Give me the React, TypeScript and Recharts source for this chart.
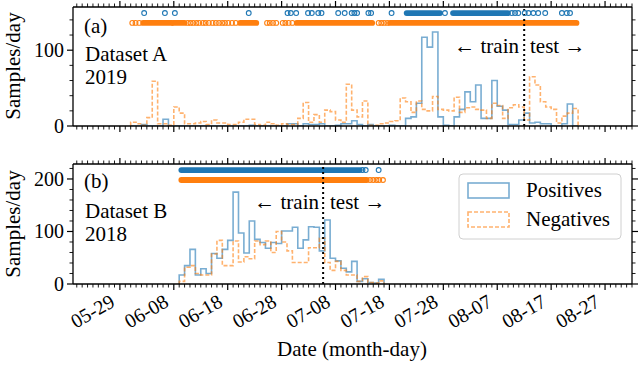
import React from 'react';
import { ComposedChart, Line, Scatter, XAxis, YAxis, ReferenceLine } from 'recharts';

const FONT = 'Liberation Serif, DejaVu Serif, Times New Roman, serif';
const BLUE = '#1f77b4';
const ORANGE = '#ff7f0e';
const BLUE_H = 'rgba(31,119,180,0.6)';
const ORANGE_H = 'rgba(255,127,14,0.6)';

// x axis: day index, day 0 = 05-20
const MAJOR_DAYS = [9, 19, 29, 39, 49, 59, 69, 79, 89, 99];
const MAJOR_LABELS = ['05-29', '06-08', '06-18', '06-28', '07-08', '07-18', '07-28', '08-07', '08-17', '08-27'];
const MINOR_DAYS = Array.from({ length: 104 }, (_, i) => i + 1);

// Panel A (2019): daily counts starting at day 11
const startA = 11;
const posA = [
  0, 0, 2, 0, 0, 0, 9, 0, 0, 0,
  0, 0, 0, 0, 0, 0, 0, 0, 0, 0,
  0, 0, 1, 0, 0, 0, 0, 0, 0, 3,
  3, 0, 3, 2, 2, 3, 0, 0, 1, 3,
  3, 7, 2, 0, 2, 0, 0, 0, 1, 0,
  0, 10, 12, 30, 117, 104, 124, 12, 1, 0,
  12, 22, 45, 32, 54, 10, 10, 60, 26, 21,
  2, 2, 8, 17, 4, 5, 3, 3, 0, 0,
  3, 29, 0,
];
const negA = [
  5, 3, 1, 11, 59, 3, 3, 1, 25, 17,
  3, 3, 4, 6, 2, 8, 4, 4, 2, 2,
  5, 9, 9, 2, 1, 5, 3, 1, 3, 2,
  2, 10, 31, 5, 15, 5, 21, 19, 8, 5,
  55, 21, 12, 33, 1, 1, 3, 4, 6, 7,
  37, 32, 18, 33, 22, 20, 39, 22, 21, 20,
  38, 18, 24, 25, 22, 21, 10, 30, 27, 10,
  24, 28, 25, 8, 65, 54, 32, 25, 22, 4,
  13, 17, 23,
];
// individual sample times (days) and dense runs
const posSamplesA = [13.5, 17.35, 19.2, 32.9, 40.1, 40.7, 41.7, 43.9, 44.6, 45.8, 46.4, 49.5, 50.7, 52, 52.5, 53, 55.1, 55.6, 59.4, 69.3, 81.7, 82.3, 82.9, 84.1, 84.8, 85.7, 86.6, 87.9, 91, 91.9, 92.5];
const posRunsA = [[62.2, 68.4], [70.8, 81.0]];
const negSamplesA = [11.3, 11.9, 12.6, 21.6, 22.1, 22.6, 23.2, 23.7, 24.4, 24.9, 25.5, 26.2, 26.8, 27.4, 28.0, 28.5, 29.1, 29.8, 30.5, 36.3, 36.8, 37.4, 38.0, 39.2, 39.7, 40.3, 41.0, 57.0, 57.5, 58.0, 58.6];
const negRunsA = [[13.3, 18.6], [18.9, 21.0], [31.3, 34.3], [41.8, 55.8], [59.1, 93.7]];
const splitA = 84.0;

// Panel B (2018): daily counts starting at day 20
const startB = 20;
const posB = [
  17, 35, 66, 17, 29, 20, 58, 49, 66, 83,
  175, 97, 59, 120, 85, 79, 68, 79, 77, 101,
  101, 108, 68, 84, 109, 108, 63, 122, 49, 44,
  30, 23, 43, 5, 10, 3, 2, 9,
];
const negB = [
  5, 32, 35, 20, 17, 17, 57, 83, 35, 35,
  82, 42, 52, 48, 82, 75, 82, 60, 100, 80,
  63, 41, 41, 41, 69, 69, 87, 41, 26, 43,
  26, 17, 17, 5, 14, 3, 2, 6,
];
const posSamplesB = [54.0, 54.6, 57.0];
const posRunsB = [[20.4, 53.5]];
const negSamplesB = [55.4, 56.0, 56.6, 57.1, 57.8];
const negRunsB = [[20.4, 54.8]];
const splitB = 46.7;

const ROW_A = { pos: 149, neg: 136 };
const ROW_B = { pos: 217, neg: 198 };

function stepPoints(start: number, values: number[]) {
  const pts = [{ x: start, y: 0 }];
  values.forEach((v, i) => pts.push({ x: start + i, y: v }));
  pts.push({ x: start + values.length, y: 0 });
  return pts;
}

const labelOf = (v: number) => MAJOR_LABELS[MAJOR_DAYS.indexOf(v)];

function xTick(side: 'top' | 'bottom', labels: boolean) {
  return (p: any) => {
    const { x, y, payload } = p;
    const v = payload.value;
    const major = MAJOR_DAYS.includes(v);
    const len = major ? 6 : 3.5;
    const dir = side === 'bottom' ? 1 : -1;
    return (
      <g>
        <line x1={x} x2={x} y1={y} y2={y + dir * len} stroke="#000" strokeWidth={major ? 1.2 : 0.9} />
        {labels && major && (
          <text
            transform={`translate(${x - 11},${y + len + 3}) rotate(-30)`}
            textAnchor="end"
            dominantBaseline="hanging"
            fontFamily={FONT}
            fontSize={20}
            fill="#000"
          >
            {labelOf(v)}
          </text>
        )}
      </g>
    );
  };
}

function yTick(side: 'left' | 'right', majors: number[]) {
  return (p: any) => {
    const { x, y, payload } = p;
    const v = payload.value;
    const major = majors.includes(v);
    const len = major ? 6 : 3.5;
    const dir = side === 'left' ? -1 : 1;
    return (
      <g>
        <line x1={x} x2={x + dir * len} y1={y} y2={y} stroke="#000" strokeWidth={major ? 1.2 : 0.9} />
        {side === 'left' && major && (
          <text x={x - 9} y={y} dy="0.35em" textAnchor="end" fontFamily={FONT} fontSize={20} fill="#000">
            {v}
          </text>
        )}
      </g>
    );
  };
}

const hollow = (color: string) => (p: any) => (
  <circle cx={p.cx} cy={p.cy} r={2.4} fill="none" stroke={color} strokeWidth={1.1} />
);

function Panel(props: {
  height: number; top: number; bottom: number; yMax: number; yTicks: number[]; yMajors: number[];
  start: number; pos: number[]; neg: number[]; posSamples: number[]; negSamples: number[];
  posRuns: number[][]; negRuns: number[][]; rows: { pos: number; neg: number }; split: number; labels: boolean;
}) {
  const p = props;
  const axisStroke = { stroke: '#000', strokeWidth: 1.3 };
  return (
    <ComposedChart width={640} height={p.height} margin={{ top: p.top - 1, bottom: p.bottom - 1, left: 72, right: 7 }}>
      <XAxis xAxisId="b" type="number" dataKey="x" domain={[0.3, 104]} ticks={MINOR_DAYS} interval={0}
        allowDataOverflow orientation="bottom" height={1} tickSize={0} tickMargin={0} tickLine={false}
        axisLine={axisStroke} tick={xTick('bottom', p.labels)} />
      <XAxis xAxisId="t" type="number" dataKey="x" domain={[0.3, 104]} ticks={MINOR_DAYS} interval={0}
        allowDataOverflow orientation="top" height={1} tickSize={0} tickMargin={0} tickLine={false}
        axisLine={axisStroke} tick={xTick('top', false)} />
      <YAxis yAxisId="l" type="number" dataKey="y" domain={[0, p.yMax]} ticks={p.yTicks} interval={0}
        allowDataOverflow orientation="left" width={1} tickSize={0} tickMargin={0} tickLine={false}
        axisLine={axisStroke} tick={yTick('left', p.yMajors)} />
      <YAxis yAxisId="r" type="number" dataKey="y" domain={[0, p.yMax]} ticks={p.yTicks} interval={0}
        allowDataOverflow orientation="right" width={1} tickSize={0} tickMargin={0} tickLine={false}
        axisLine={axisStroke} tick={yTick('right', p.yMajors)} />
      <Line xAxisId="b" yAxisId="l" data={stepPoints(p.start, p.pos)} dataKey="y" type="stepAfter"
        stroke={BLUE_H} strokeWidth={1.6} dot={false} isAnimationActive={false} />
      <Line xAxisId="b" yAxisId="l" data={stepPoints(p.start, p.neg)} dataKey="y" type="stepAfter"
        stroke={ORANGE_H} strokeWidth={1.6} strokeDasharray="4 2" dot={false} isAnimationActive={false} />
      {p.posRuns.map((r, i) => (
        <Line key={'pr' + i} xAxisId="b" yAxisId="l" data={[{ x: r[0], y: p.rows.pos }, { x: r[1], y: p.rows.pos }]}
          dataKey="y" type="linear" stroke={BLUE} strokeWidth={5.8} strokeLinecap="round" dot={false} isAnimationActive={false} />
      ))}
      {p.negRuns.map((r, i) => (
        <Line key={'nr' + i} xAxisId="b" yAxisId="l" data={[{ x: r[0], y: p.rows.neg }, { x: r[1], y: p.rows.neg }]}
          dataKey="y" type="linear" stroke={ORANGE} strokeWidth={5.8} strokeLinecap="round" dot={false} isAnimationActive={false} />
      ))}
      <Scatter xAxisId="b" yAxisId="l" data={p.posSamples.map((d) => ({ x: d, y: p.rows.pos }))} dataKey="y"
        shape={hollow(BLUE)} isAnimationActive={false} />
      <Scatter xAxisId="b" yAxisId="l" data={p.negSamples.map((d) => ({ x: d, y: p.rows.neg }))} dataKey="y"
        shape={hollow(ORANGE)} isAnimationActive={false} />
      <ReferenceLine xAxisId="b" yAxisId="l" x={p.split} stroke="#000" strokeWidth={2} strokeDasharray="2 3" />
    </ComposedChart>
  );
}

export default function App() {
  const txt = { fontFamily: FONT, fontSize: 21, fill: '#000' } as const;
  return (
    <div style={{ position: 'absolute', left: 0, top: 0, width: 640, height: 366, background: '#fff' }}>
      <div style={{ position: 'absolute', left: 0, top: 0 }}>
        <Panel height={145} top={7} bottom={19} yMax={157} yTicks={[0, 20, 40, 60, 80, 100, 120, 140]} yMajors={[0, 100]}
          start={startA} pos={posA} neg={negA} posSamples={posSamplesA} negSamples={negSamplesA}
          posRuns={posRunsA} negRuns={negRunsA} rows={ROW_A} split={splitA} labels={false} />
      </div>
      <div style={{ position: 'absolute', left: 0, top: 145 }}>
        <Panel height={221} top={19} bottom={82} yMax={228.5}
          yTicks={[0, 20, 40, 60, 80, 100, 120, 140, 160, 180, 200, 220]} yMajors={[0, 100, 200]}
          start={startB} pos={posB} neg={negB} posSamples={posSamplesB} negSamples={negSamplesB}
          posRuns={posRunsB} negRuns={negRunsB} rows={ROW_B} split={splitB} labels={true} />
      </div>
      <svg width={640} height={366} style={{ position: 'absolute', left: 0, top: 0, pointerEvents: 'none' }}>
        <text x={84} y={33} {...txt}>(a)</text>
        <text x={85} y={61} {...txt}>Dataset A</text>
        <text x={85} y={84} {...txt}>2019</text>
        <text x={519} y={53} textAnchor="end" {...txt}>← train</text>
        <text x={530} y={53} {...txt}>test →</text>
        <text x={84} y={188} {...txt}>(b)</text>
        <text x={85} y={218} {...txt}>Dataset B</text>
        <text x={85} y={241} {...txt}>2018</text>
        <text x={319} y={209} textAnchor="end" {...txt}>← train</text>
        <text x={330} y={209} {...txt}>test →</text>
        <text transform="translate(20,66) rotate(-90)" textAnchor="middle" {...txt}>Samples/day</text>
        <text transform="translate(20,224) rotate(-90)" textAnchor="middle" {...txt}>Samples/day</text>
        <text x={352} y={356} textAnchor="middle" {...txt}>Date (month-day)</text>
        <rect x={459} y={174} width={162} height={65} rx={4} fill="#fff" fillOpacity={0.8} stroke="#d0d0d0" strokeWidth={1} />
        <rect x={468} y={183} width={41} height={15} fill="none" stroke={BLUE_H} strokeWidth={1.6} />
        <rect x={468} y={212} width={41} height={15} fill="none" stroke={ORANGE_H} strokeWidth={1.6} strokeDasharray="4 2" />
        <text x={526} y={197} {...txt}>Positives</text>
        <text x={526} y={226} {...txt}>Negatives</text>
      </svg>
    </div>
  );
}
